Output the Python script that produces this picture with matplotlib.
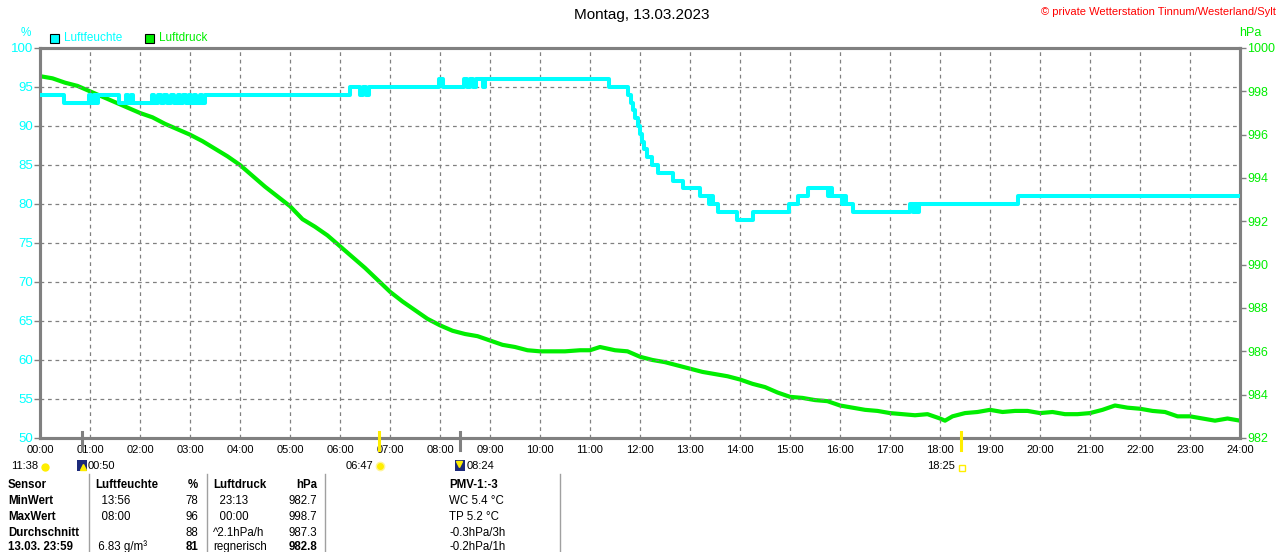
import matplotlib
matplotlib.use("Agg")
import matplotlib.pyplot as plt
from matplotlib.patches import Rectangle
from matplotlib.lines import Line2D

plt.rcParams['font.family'] = ['Liberation Sans', 'DejaVu Sans']

W, H = 1280, 552

# Luftfeuchte (%), step values: change times in hours
hum_t = [0.00, 0.47, 0.98, 1.02, 1.08, 1.12, 1.16, 1.58, 1.72, 1.76, 1.82, 1.86,
         2.24, 2.28, 2.36, 2.42, 2.48, 2.54, 2.62, 2.68, 2.76, 2.80, 2.86, 2.92,
         2.98, 3.02, 3.08, 3.12, 3.20, 3.24, 3.30, 6.20, 6.40, 6.46, 6.52, 6.58,
         7.98, 8.06, 8.48, 8.54, 8.60, 8.66, 8.72, 8.86, 8.90, 11.38, 11.76, 11.82,
         11.86, 11.90, 11.96, 12.00, 12.04, 12.08, 12.14, 12.24, 12.36, 12.66, 12.86,
         13.20, 13.38, 13.42, 13.46, 13.56, 13.94, 14.26, 14.98, 15.16, 15.36, 15.76,
         15.80, 15.84, 16.04, 16.08, 16.12, 16.26, 17.40, 17.46, 17.50, 17.54, 17.58,
         19.56, 24.00]
hum_v = [94, 93, 94, 93, 94, 93, 94, 93, 94, 93, 94, 93,
         94, 93, 94, 93, 94, 93, 94, 93, 94, 93, 94, 93,
         94, 93, 94, 93, 94, 93, 94, 95, 94, 95, 94, 95,
         96, 95, 96, 95, 96, 95, 96, 95, 96, 95, 94, 93,
         92, 91, 90, 89, 88, 87, 86, 85, 84, 83, 82,
         81, 80, 81, 80, 79, 78, 79, 80, 81, 82, 81,
         82, 81, 80, 81, 80, 79, 80, 79, 80, 79, 80,
         81, 81]

# Luftdruck (hPa)
pres_t = [0.0, 0.25, 0.5, 0.75, 1.0, 1.25, 1.5, 1.75, 2.0, 2.25, 2.5, 2.75, 3.0,
          3.25, 3.5, 3.75, 4.0, 4.25, 4.5, 4.75, 5.0, 5.25, 5.5, 5.75, 6.0, 6.25,
          6.5, 6.75, 7.0, 7.25, 7.5, 7.75, 8.0, 8.25, 8.5, 8.75, 9.0, 9.25, 9.5,
          9.75, 10.0, 10.5, 10.8, 11.0, 11.2, 11.5, 11.75, 12.0, 12.25, 12.5, 12.75,
          13.0, 13.25, 13.5, 13.75, 14.0, 14.25, 14.5, 14.75, 15.0, 15.25, 15.5,
          15.75, 16.0, 16.25, 16.5, 16.75, 17.0, 17.25, 17.5, 17.75, 18.0, 18.1,
          18.25, 18.5, 18.75, 19.0, 19.25, 19.5, 19.75, 20.0, 20.25, 20.5, 20.75,
          21.0, 21.25, 21.5, 21.75, 22.0, 22.25, 22.5, 22.75, 23.0, 23.25, 23.5,
          23.75, 24.0]
pres_v = [998.7, 998.6, 998.4, 998.25, 998.0, 997.75, 997.5, 997.25, 997.0, 996.8,
          996.5, 996.25, 996.0, 995.7, 995.35, 995.0, 994.6, 994.1, 993.6, 993.15,
          992.7, 992.1, 991.75, 991.35, 990.85, 990.35, 989.85, 989.3, 988.75,
          988.3, 987.9, 987.5, 987.2, 986.95, 986.8, 986.7, 986.5, 986.3, 986.2,
          986.05, 986.0, 986.0, 986.05, 986.05, 986.2, 986.05, 986.0, 985.75,
          985.6, 985.5, 985.35, 985.2, 985.05, 984.95, 984.85, 984.7, 984.5,
          984.35, 984.1, 983.9, 983.85, 983.75, 983.7, 983.5, 983.4, 983.3,
          983.25, 983.15, 983.1, 983.05, 983.1, 982.9, 982.8, 983.0, 983.15,
          983.2, 983.3, 983.2, 983.25, 983.25, 983.15, 983.2, 983.1, 983.1,
          983.15, 983.3, 983.5, 983.4, 983.35, 983.25, 983.2, 983.0, 983.0,
          982.9, 982.8, 982.9, 982.8]

hour_labels = ["%02d:00" % h for h in range(25)]
hum_ticks = list(range(50, 101, 5))
pres_ticks = list(range(982, 1001, 2))

# Sonne / Mond Zeiten (Stunden)
moon_rise = 50 / 60
sun_rise = 6 + 47 / 60
moon_set = 8 + 24 / 60
sun_set = 18 + 25 / 60

# Tabelle
table_rows = [
    ["Sensor", "Luftfeuchte", "%", "Luftdruck", "hPa", "PMV-1:-3"],
    ["MinWert", "  13:56", "78", "  23:13", "982.7", "WC 5.4 °C"],
    ["MaxWert", "  08:00", "96", "  00:00", "998.7", "TP 5.2 °C"],
    ["Durchschnitt", "", "88", "^2.1hPa/h", "987.3", "-0.3hPa/3h"],
    ["13.03. 23:59", " 6.83 g/m³", "81", "regnerisch", "982.8", "-0.2hPa/1h"],
]

CYAN = "#00FFFF"
GREEN = "#00EE00"
GRAY = "#808080"
NAVY = "#1C2A7A"


def px(x, y):
    return x / W, 1 - y / H


fig = plt.figure(figsize=(W / 100, H / 100), dpi=100)
ax = fig.add_axes([40 / W, (H - 438) / H, 1200 / W, 390 / H])
ax2 = ax.twinx()

ax.step(hum_t, hum_v, where="post", color=CYAN, lw=2.9, zorder=3)
ax2.plot(pres_t, pres_v, color=GREEN, lw=3.0, zorder=2)

ax.set_xlim(0, 24)
ax.set_ylim(50, 100)
ax2.set_ylim(982, 1000)
ax.set_xticks(range(25))
ax.set_xticklabels(hour_labels, fontsize=8)
ax.set_yticks(hum_ticks)
ax.set_yticklabels([str(v) for v in hum_ticks], fontsize=9.5, color=CYAN)
ax2.set_yticks(pres_ticks)
ax2.set_yticklabels([str(v) for v in pres_ticks], fontsize=9, color=GREEN)

ax.tick_params(axis="x", length=0, pad=5)
ax.tick_params(axis="y", length=4, width=1, color=GRAY, pad=1)
ax2.tick_params(axis="y", length=4, width=1, color=GRAY, pad=1)

ax.grid(True, color=GRAY, linestyle=(0, (3, 3)), lw=0.9)
for a in (ax, ax2):
    for s in a.spines.values():
        s.set_color(GRAY)
        s.set_linewidth(2.2)
ax.set_zorder(ax2.get_zorder() + 1)
ax.patch.set_visible(False)

# Markierungen unter der Achse
xt = ax.get_xaxis_transform()
for t, c in [(moon_rise, GRAY), (moon_set, GRAY), (sun_rise, "#FFEE00"), (sun_set, "#FFEE00")]:
    ax.plot([t, t], [-0.03, 0.015], color=c, lw=2.2, transform=xt, clip_on=False, zorder=5)

# Titel
fig.text(*px(642, 15), "Montag, 13.03.2023", fontsize=11, ha="center", va="center")
fig.text(*px(1276, 12), "© private Wetterstation Tinnum/Westerland/Sylt", fontsize=8,
         color="#FF0000", ha="right", va="center")
fig.text(*px(26, 33), "%", fontsize=8.5, color=CYAN, ha="center", va="center")
fig.text(*px(1250, 33), "hPa", fontsize=9, color=GREEN, ha="center", va="center")

# Legende
for x0, col, lab in [(50, CYAN, "Luftfeuchte"), (145, GREEN, "Luftdruck")]:
    fig.add_artist(Rectangle(px(x0, 43), 9 / W, 9 / H, transform=fig.transFigure,
                             facecolor=col, edgecolor="black", lw=0.8))
    fig.text(*px(x0 + 14, 38), lab, fontsize=8.5, color=col, ha="left", va="center")

# Sonne / Mond Beschriftung
ry = 466
fig.text(*px(38, ry), "11:38", fontsize=8, ha="right", va="center")
fig.add_artist(Line2D([45 / W], [1 - (ry + 1) / H], marker="o", markersize=5,
                      color="#FFEE00", transform=fig.transFigure))
fig.add_artist(Rectangle(px(77, ry + 5), 10 / W, 11 / H, transform=fig.transFigure,
                         facecolor=NAVY, edgecolor="none"))
fig.add_artist(Line2D([83 / W], [1 - (ry + 1) / H], marker="^", markersize=4,
                      color="#FFEE00", transform=fig.transFigure))
fig.text(*px(88, ry), "00:50", fontsize=8, ha="left", va="center")
fig.text(*px(373, ry), "06:47", fontsize=8, ha="right", va="center")
fig.add_artist(Line2D([380 / W], [1 - ry / H], marker="o", markersize=6,
                      color="#FFEE00", markeredgecolor="#FFF59A", transform=fig.transFigure))
fig.add_artist(Rectangle(px(455, ry + 5), 10 / W, 11 / H, transform=fig.transFigure,
                         facecolor=NAVY, edgecolor="none"))
fig.add_artist(Line2D([459 / W], [1 - (ry - 2) / H], marker="v", markersize=4,
                      color="#FFEE00", transform=fig.transFigure))
fig.text(*px(467, ry), "08:24", fontsize=8, ha="left", va="center")
fig.text(*px(955, ry), "18:25", fontsize=8, ha="right", va="center")
fig.add_artist(Line2D([962 / W], [1 - (ry + 2) / H], marker="s", markersize=4,
                      markerfacecolor="none", markeredgecolor="#FFEE00",
                      transform=fig.transFigure))

# Tabelle
for xs in (89, 207, 325, 560):
    fig.add_artist(Line2D([xs / W, xs / W], [1 - 474 / H, 0], color="#A0A0A0", lw=1,
                          transform=fig.transFigure))

col_pos = [(8, "left"), (95, "left"), (198, "right"), (213, "left"), (317, "right"), (449, "left")]
row_y = [485, 501, 517, 533, 547]
bold_cells = {(4, 0), (4, 2), (4, 4)}
for r, row in enumerate(table_rows):
    for c, txt in enumerate(row):
        x, ha = col_pos[c]
        bold = r == 0 or c == 0 or (r, c) in bold_cells
        fig.text(*px(x, row_y[r]), txt, fontsize=8.3, ha=ha, va="center",
                 fontweight="bold" if bold else "normal")

fig.savefig("out.png", dpi=100)
